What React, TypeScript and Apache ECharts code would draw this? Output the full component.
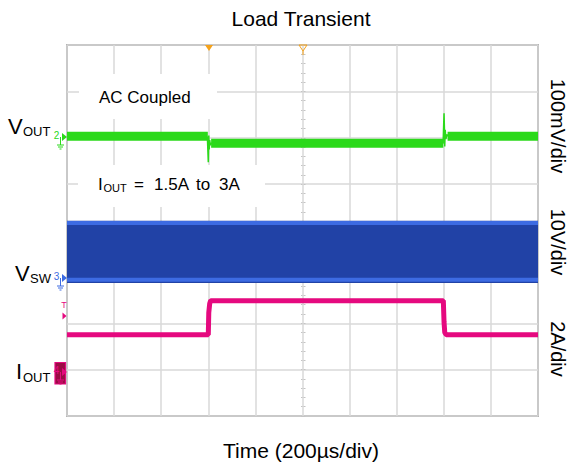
import React, { useEffect, useRef } from 'react';
import * as echarts from 'echarts';

// ---------- data ----------
// time axis: 0..2000 µs (200 µs/div, 10 div)
// VOUT (AC coupled, mV relative to the pre-step level), 100 mV/div
const voutBandTime = [0, 598, 600, 612, 1598, 1600, 1616, 2000];
const voutBandMv: (number | null)[] = [0, 0, null, -15, -15, null, 0, 0];
const voutRingTime = [596, 599, 600, 601, 602, 604, 606, 609, 613, 1597, 1600, 1601, 1603, 1604, 1606, 1609, 1613, 1618];
const voutRingMv = [0, 0, -56, -25, 2, -28, -8, -19, -15, -15, -15, 50, 10, -22, 14, -6, 4, 0];

// VSW switching node envelope (V), 10 V/div
const vswTime = [0, 2000];
const vswTopV = [12.1, 12.1];
const vswBottomV = [-1.3, -1.3];
const vswHighRailV = [11.6, 11.6];
const vswLowRailV = [-0.6, -0.6];

// IOUT (A), 2 A/div
const ioutTime = [0, 600, 602, 606, 610, 1598, 1601, 1604, 1610, 2000];
const ioutA = [1.65, 1.65, 2.6, 3.0, 3.12, 3.12, 2.2, 1.75, 1.65, 1.65];

// channel reference levels (in divisions from bottom) and scales
const VOUT_REF = 6.03, VOUT_PER_DIV = 100;
const VSW_REF = 3.0, VSW_PER_DIV = 10;
const IOUT_REF = 0.927, IOUT_PER_DIV = 2;

const FONT = "'Liberation Sans', Arial, sans-serif";
const GREEN = '#2bd91a';
const BLUE_DARK = '#2142a6';
const BLUE_LIGHT = '#3d6be2';
const PINK = '#e5097f';
const ORANGE = '#f5a21b';

const vPos = (mv: number | null) => (mv === null ? '-' : VOUT_REF + mv / VOUT_PER_DIV);
const swPos = (v: number) => VSW_REF + v / VSW_PER_DIV;
const iPos = (a: number) => IOUT_REF + a / IOUT_PER_DIV;

function txt(text: string, x: number, y: number, size: number, opts: any = {}) {
  return {
    type: 'text',
    x,
    y,
    z: 20,
    rotation: opts.rotation || 0,
    style: {
      text,
      font: `${size}px ${FONT}`,
      fill: opts.fill || '#000',
      align: opts.align || 'left',
      verticalAlign: 'middle',
    },
  };
}

function groundMarker(label: string, cy: number, color: string) {
  return [
    txt(label, 56.5, cy - 2, 10, { fill: color, align: 'center' }),
    { type: 'polygon', z: 20, shape: { points: [[62, cy - 4], [62, cy + 4], [67, cy]] }, style: { fill: color } },
    { type: 'line', z: 20, shape: { x1: 60.5, y1: cy, x2: 60.5, y2: cy + 8 }, style: { stroke: color, lineWidth: 1 } },
    { type: 'line', z: 20, shape: { x1: 57, y1: cy + 8, x2: 64, y2: cy + 8 }, style: { stroke: color, lineWidth: 1 } },
    { type: 'line', z: 20, shape: { x1: 58, y1: cy + 10, x2: 63, y2: cy + 10 }, style: { stroke: color, lineWidth: 1 } },
    { type: 'line', z: 20, shape: { x1: 59.5, y1: cy + 12, x2: 61.5, y2: cy + 12 }, style: { stroke: color, lineWidth: 1 } },
  ];
}

export default function App() {
  const ref = useRef<HTMLDivElement>(null);
  useEffect(() => {
    if (!ref.current) return;
    const chart = echarts.init(ref.current, undefined, { renderer: 'svg' });
    const graphic: any[] = [
      // white boxes behind annotations
      { type: 'rect', z: 5, shape: { x: 79, y: 74, width: 138, height: 45 }, style: { fill: '#fff' } },
      { type: 'rect', z: 5, shape: { x: 78, y: 165, width: 187, height: 42 }, style: { fill: '#fff' } },
      txt('Load Transient', 301, 18, 21, { align: 'center' }),
      txt('Time (200µs/div)', 301, 450, 21, { align: 'center' }),
      txt('AC Coupled', 99, 97, 17),
      txt('I', 98, 184, 17),
      txt('OUT', 103.5, 188, 11),
      txt('=', 139, 184, 17, { align: 'center' }),
      txt('1.5A', 154, 184, 17),
      txt('to', 196, 184, 17),
      txt('3A', 219, 184, 17),
      txt('100mV/div', 558, 126, 20, { align: 'center', rotation: -Math.PI / 2 }),
      txt('10V/div', 558, 242, 20, { align: 'center', rotation: -Math.PI / 2 }),
      txt('2A/div', 558, 349, 20, { align: 'center', rotation: -Math.PI / 2 }),
      txt('V', 8, 126, 22),
      txt('OUT', 23, 131, 13),
      txt('V', 15, 273, 22),
      txt('SW', 30, 278.5, 13),
      txt('I', 16, 371, 22),
      txt('OUT', 23, 377, 13),
      ...groundMarker('2', 137, GREEN),
      ...groundMarker('3', 278, BLUE_LIGHT),
      txt('T', 64, 305, 9, { fill: PINK, align: 'center' }),
      { type: 'polygon', z: 20, shape: { points: [[62.5, 312.5], [62.5, 319.5], [66.5, 316]] }, style: { fill: PINK } },
      { type: 'rect', z: 19, shape: { x: 55, y: 362.5, width: 10.5, height: 21.5 }, style: { fill: '#9a0c45', stroke: PINK, lineWidth: 1.2 } },
      ...groundMarker('4', 372, PINK).map((g: any) => ({ ...g, z: 21 })),
      { type: 'polygon', z: 20, shape: { points: [[205, 45], [213, 45], [209, 51]] }, style: { fill: ORANGE } },
      { type: 'polygon', z: 20, shape: { points: [[299, 45], [307, 45], [303, 51]] }, style: { fill: 'none', stroke: ORANGE, lineWidth: 1 } },
      { type: 'line', z: 20, shape: { x1: 303, y1: 51, x2: 303, y2: 55 }, style: { stroke: ORANGE, lineWidth: 1 } },
    ];

    const hidden = { axisLine: { show: false }, axisTick: { show: false }, axisLabel: { show: false } };
    const option: any = {
      animation: false,
      backgroundColor: '#fff',
      grid: [
        { left: 67, top: 45, right: 31, bottom: 51, show: true, borderColor: '#7d7d7d', borderWidth: 1.5, backgroundColor: 'transparent' },
        // narrow strip on the centre vertical line that carries the minor ticks
        { left: 301, width: 4.5, top: 45, bottom: 51, show: false },
      ],
      xAxis: [
        {
          type: 'value', min: 0, max: 2000, interval: 200, ...hidden,
          splitLine: { show: true, lineStyle: { color: '#d9d9d9', width: 1.5 } },
        },
        { type: 'value', gridIndex: 1, min: 0, max: 1, ...hidden, splitLine: { show: false } },
      ],
      yAxis: [
        {
          type: 'value', min: 0, max: 8, interval: 1, ...hidden,
          splitLine: { show: true, lineStyle: { color: '#d9d9d9', width: 1.5 } },
        },
        {
          type: 'value', gridIndex: 1, min: 0, max: 8, interval: 0.2, ...hidden,
          splitLine: { show: true, lineStyle: { color: '#c4c4c4', width: 1 } },
        },
      ],
      graphic,
      series: [
        {
          type: 'line', name: 'VSW band', symbol: 'none', silent: true,
          data: vswTime.map((t, i) => [t, swPos(vswTopV[i])]),
          lineStyle: { width: 0 },
          areaStyle: { color: BLUE_DARK, opacity: 1, origin: swPos(vswBottomV[0]) },
          z: 3,
        },
        {
          type: 'line', name: 'VSW high', symbol: 'none', silent: true,
          data: vswTime.map((t, i) => [t, swPos(vswHighRailV[i])]),
          lineStyle: { width: 4, color: BLUE_LIGHT }, z: 3,
        },
        {
          type: 'line', name: 'VSW low', symbol: 'none', silent: true,
          data: vswTime.map((t, i) => [t, swPos(vswLowRailV[i])]),
          lineStyle: { width: 4, color: BLUE_LIGHT }, z: 3,
        },
        {
          type: 'line', name: 'IOUT', symbol: 'none', silent: true,
          data: ioutTime.map((t, i) => [t, iPos(ioutA[i])]),
          lineStyle: { width: 5, color: PINK }, z: 3,
        },
        {
          type: 'line', name: 'VOUT band', symbol: 'none', silent: true, connectNulls: false,
          data: voutBandTime.map((t, i) => [t, vPos(voutBandMv[i])]),
          lineStyle: { width: 9, color: GREEN }, z: 3,
        },
        {
          type: 'line', name: 'VOUT ring', symbol: 'none', silent: true,
          data: voutRingTime.map((t, i) => [t, vPos(voutRingMv[i])]),
          lineStyle: { width: 1.5, color: GREEN }, z: 3,
        },
      ],
    };
    chart.setOption(option);
    return () => chart.dispose();
  }, []);
  return <div ref={ref} style={{ position: 'fixed', left: 0, top: 0, width: 569, height: 467 }} />;
}
